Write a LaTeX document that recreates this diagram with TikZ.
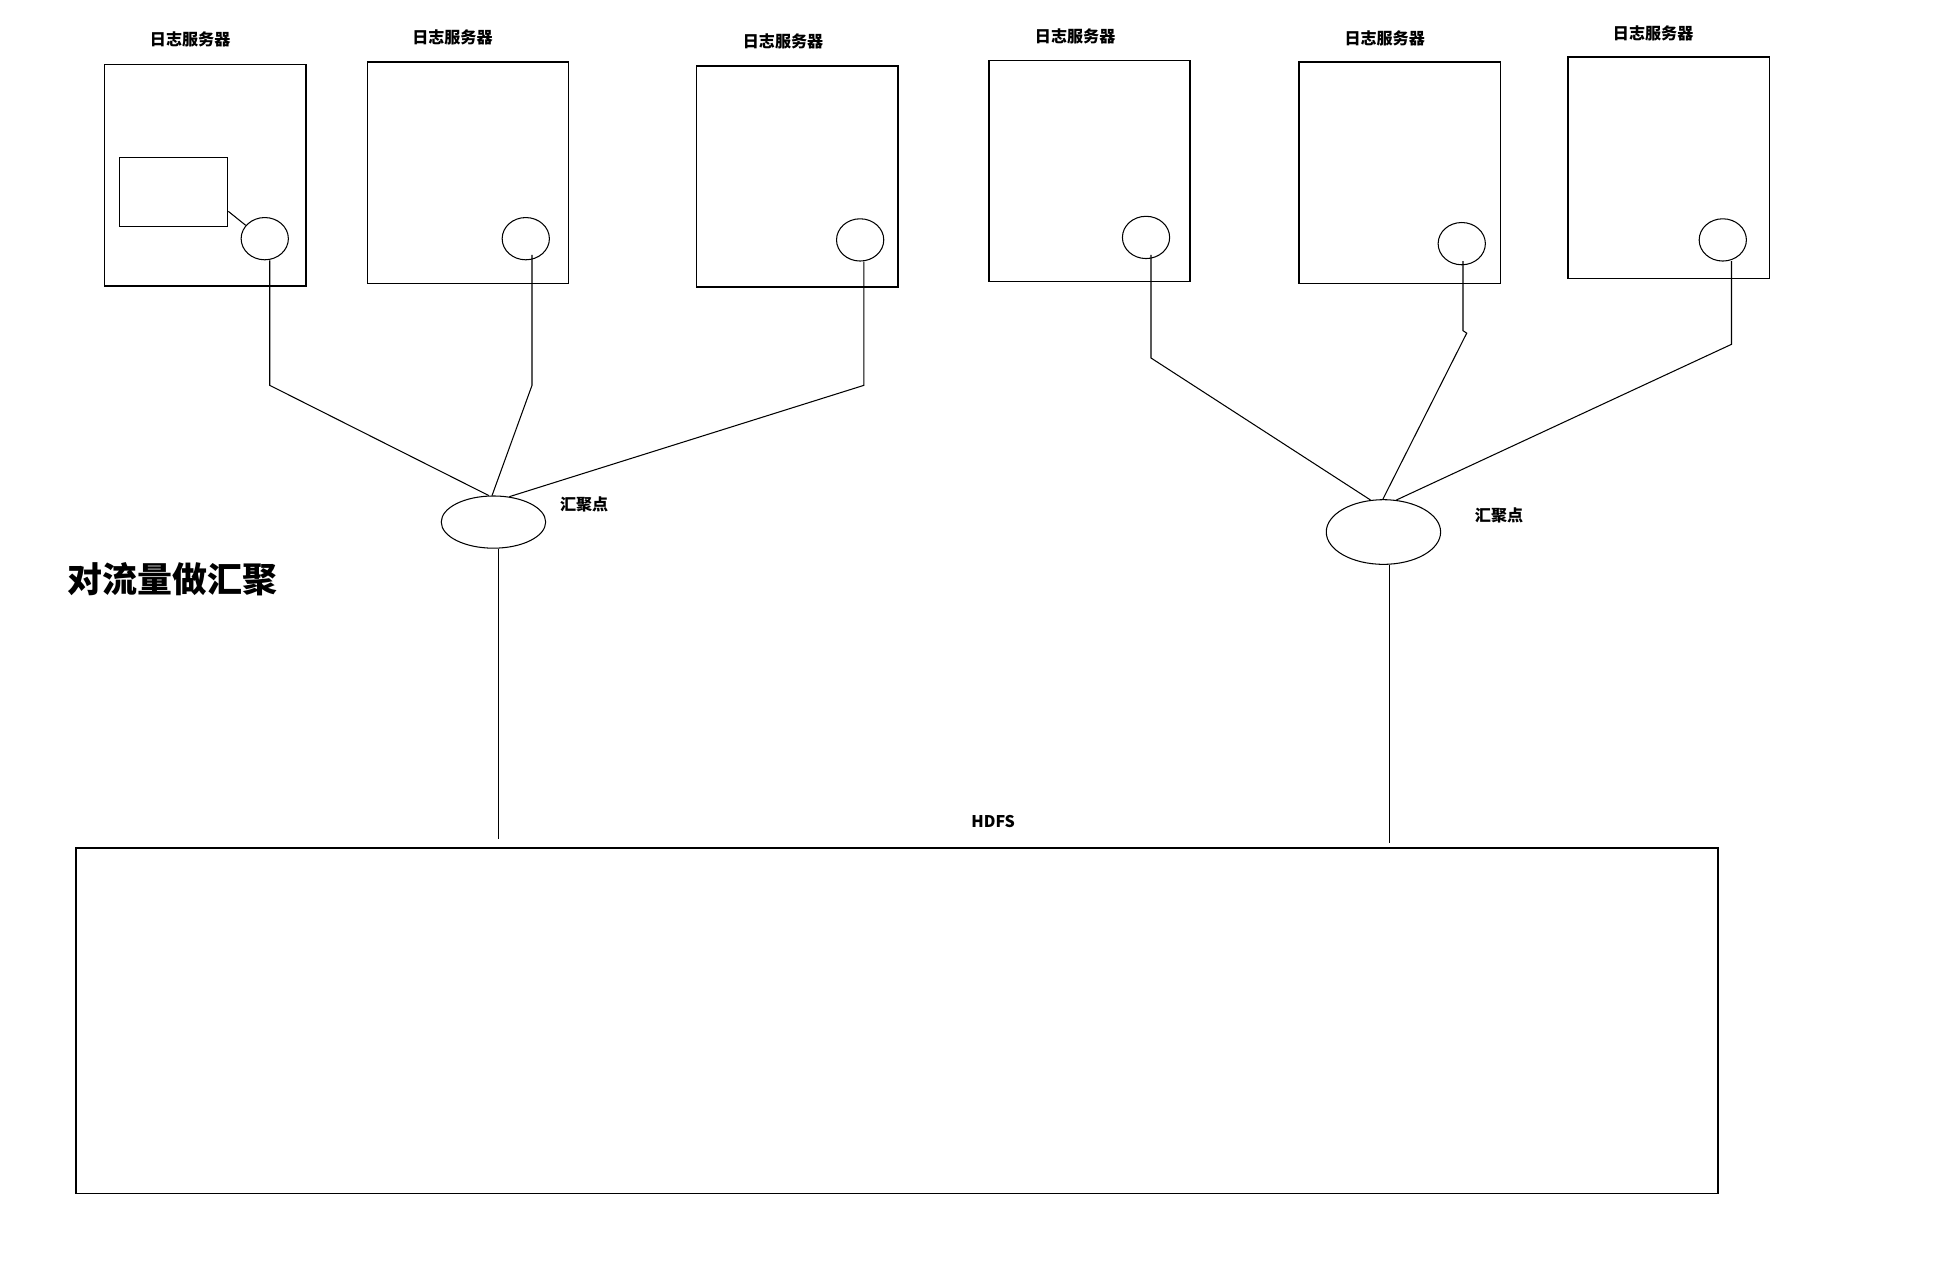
\documentclass[tikz,border=0pt]{standalone}
\usepackage{fontspec}
\newfontfamily\cjk{Noto Sans CJK SC}
\usepackage{tikz}
\usetikzlibrary{
    shapes.geometric,
    positioning
}
\tikzstyle{server} = [
    rectangle, draw,
    line width=0.45pt,
    minimum width=20.25mm,
    minimum height=22.25mm,
    inner sep=0pt
]
\tikzstyle{port} = [
    ellipse, draw,
    line width=0.3pt,
    minimum width=4.75mm,
    minimum height=4.25mm,
    inner sep=0pt
]
\tikzstyle{hub} = [
    ellipse, draw,
    line width=0.3pt,
    inner sep=0pt
]
\tikzstyle{lbl} = [
    font=\cjk\bfseries\fontsize{4.6}{5}\selectfont,
    inner sep=0pt
]
\tikzstyle{wire} = [
    line width=0.3pt
]

\begin{document}
\begin{tikzpicture}[x=0.125mm, y=-0.125mm]
    \useasboundingbox (0,0) rectangle (1568,1030.6);
    % servers
    \node[server] (b1) at (165,141)  {};
    \node[server] (b2) at (376.5,139) {};
    \node[server] (b3) at (641.5,142) {};
    \node[server] (b4) at (876.5,137.5) {};
    \node[server] (b5) at (1126,139) {};
    \node[server] (b6) at (1342.5,135) {};
    \node[lbl] (n1) at (153,32)  {日志服务器};
    \node[lbl] (n2) at (364,30)  {日志服务器};
    \node[lbl] (n3) at (630,33)  {日志服务器};
    \node[lbl] (n4) at (865,29)  {日志服务器};
    \node[lbl] (n5) at (1114,31) {日志服务器};
    \node[lbl] (n6) at (1330,27) {日志服务器};
    % inner box of first server
    \node[rectangle, draw, line width=0.4pt, minimum width=10.9mm,
          minimum height=6.9mm, inner sep=0pt] (app) at (139.5,154.5) {};
    % ports
    \node[port] (e1) at (213,192)  {};
    \node[port] (e2) at (423,192)  {};
    \node[port] (e3) at (692,193)  {};
    \node[port] (e4) at (922,191)  {};
    \node[port] (e5) at (1176,196) {};
    \node[port] (e6) at (1386,193) {};
    \draw[wire] (app.east |- 0,170) -- (e1.145);
    % aggregation points
    \node[hub, minimum width=10.5mm, minimum height=5.25mm] (h1) at (397,420) {};
    \node[hub, minimum width=11.5mm, minimum height=6.5mm] (h2) at (1113,428) {};
    \node[lbl] (a1) at (470,406)  {汇聚点};
    \node[lbl] (a2) at (1206,415) {汇聚点};
    % HDFS
    \node[rectangle, draw, line width=0.45pt, minimum width=165.1mm,
          minimum height=34.75mm, inner sep=0pt] (hdfs) at (721.5,821) {};
    \node[lbl] (hl) at (799,661) {HDFS};
    \node[font=\cjk\bfseries\fontsize{10}{12}\selectfont, inner sep=0pt]
        (title) at (139,466) {对流量做汇聚};
    % bends
    \coordinate (k1) at (217,310);
    \coordinate (k2) at (428,310);
    \coordinate (k3) at (695,310);
    \coordinate (k4) at (926,288);
    \coordinate (k5) at (1177,266);
    \coordinate (k6) at (1393,277);
    \coordinate (t1) at (401,675);
    \coordinate (t2) at (1118,678);
    \draw[wire] (e1.south -| k1) -- (k1) -- (h1.100);
    \draw[wire] (k2 |- 0,205) -- (k2) -- (h1.93);
    \draw[wire] (e3.south -| k3) -- (k3) -- (h1.58);
    \draw[wire] (k4 |- 0,205) -- (k4) -- (h2.112);
    \draw[wire] (k5 |- 0,210) -- (k5) -- ++(3,2) -- (h2.91);
    \draw[wire] (k6 |- 0,210) -- (k6) -- (h2.68);
    \draw[wire] (h1.south -| t1) -- (t1);
    \draw[wire] (h2.south -| t2) -- (t2);
\end{tikzpicture}
\end{document}
